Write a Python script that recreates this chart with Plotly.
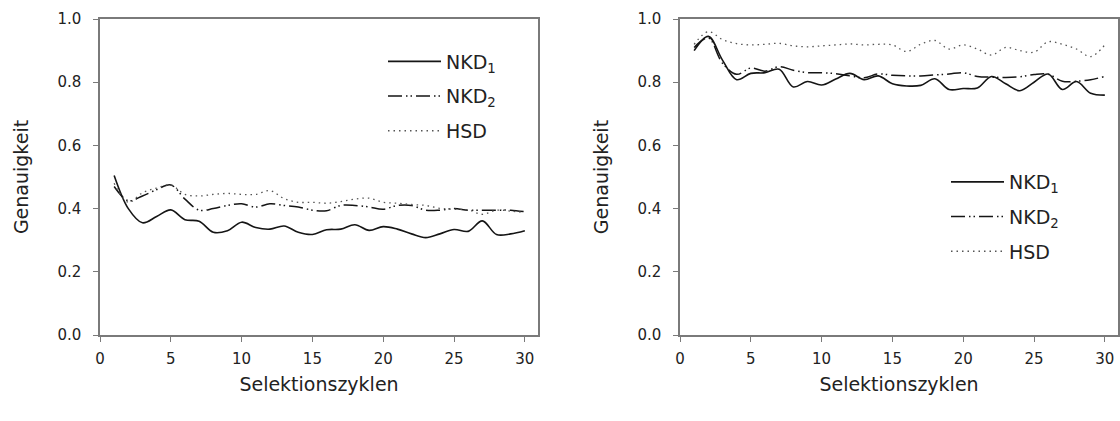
import plotly.graph_objects as go

cycles = list(range(1, 31))

# Left panel
left_nkd1 = [0.505, 0.40, 0.355, 0.375, 0.396, 0.365, 0.36, 0.325, 0.33, 0.357,
             0.34, 0.335, 0.345, 0.325, 0.318, 0.333, 0.335, 0.349, 0.331, 0.343,
             0.335, 0.32, 0.308, 0.32, 0.334, 0.328, 0.361, 0.318, 0.32, 0.33]
left_nkd2 = [0.47, 0.425, 0.44, 0.46, 0.475, 0.43, 0.395, 0.40, 0.41, 0.415,
             0.405, 0.415, 0.41, 0.405, 0.395, 0.393, 0.41, 0.41, 0.405, 0.398,
             0.41, 0.41, 0.395, 0.395, 0.40, 0.395, 0.395, 0.395, 0.395, 0.39]
left_hsd = [0.48, 0.42, 0.45, 0.465, 0.475, 0.445, 0.44, 0.445, 0.448, 0.445,
            0.445, 0.457, 0.432, 0.42, 0.42, 0.417, 0.422, 0.43, 0.433, 0.42,
            0.417, 0.413, 0.41, 0.401, 0.398, 0.396, 0.382, 0.395, 0.392, 0.388]

# Right panel
right_nkd1 = [0.90, 0.945, 0.87, 0.808, 0.828, 0.83, 0.841, 0.785, 0.802, 0.791,
              0.81, 0.828, 0.808, 0.82, 0.795, 0.788, 0.79, 0.811, 0.777, 0.78,
              0.782, 0.818, 0.795, 0.773, 0.80, 0.826, 0.777, 0.802, 0.765, 0.759]
right_nkd2 = [0.91, 0.94, 0.86, 0.825, 0.845, 0.835, 0.849, 0.838, 0.83, 0.83,
              0.827, 0.82, 0.814, 0.826, 0.822, 0.82, 0.82, 0.823, 0.826, 0.83,
              0.818, 0.816, 0.815, 0.817, 0.824, 0.825, 0.803, 0.803, 0.808, 0.818]
right_hsd = [0.92, 0.96, 0.935, 0.922, 0.918, 0.92, 0.923, 0.915, 0.912, 0.915,
             0.918, 0.921, 0.918, 0.92, 0.918, 0.897, 0.92, 0.932, 0.905, 0.918,
             0.905, 0.886, 0.91, 0.90, 0.895, 0.928, 0.92, 0.905, 0.881, 0.918]

series_names = ["NKD<sub>1</sub>", "NKD<sub>2</sub>", "HSD"]
x_ticks = [0, 5, 10, 15, 20, 25, 30]
y_ticks = [0.0, 0.2, 0.4, 0.6, 0.8, 1.0]

LINE = "#151515"
AXIS = "#7a7a7a"
TEXT = "#222222"
FONT = "DejaVu Sans"
styles = [
    dict(color=LINE, width=1.6),
    dict(color=LINE, width=1.5, dash="14px,4px,1.5px,3px,1.5px,4px"),
    dict(color="#555555", width=1.3, dash="1.5px,4px"),
]

fig = go.Figure()
for i, (ys, name) in enumerate(zip([left_nkd1, left_nkd2, left_hsd], series_names)):
    fig.add_trace(go.Scatter(x=cycles, y=ys, mode="lines", name=name,
                             line=dict(shape="spline", smoothing=1.0, **styles[i]),
                             xaxis="x", yaxis="y", legend="legend",
                             legendgroup="l%d" % i))
for i, (ys, name) in enumerate(zip([right_nkd1, right_nkd2, right_hsd], series_names)):
    fig.add_trace(go.Scatter(x=cycles, y=ys, mode="lines", name=name,
                             line=dict(shape="spline", smoothing=1.0, **styles[i]),
                             xaxis="x2", yaxis="y2", legend="legend2",
                             legendgroup="r%d" % i))

W, H = 1120, 421
def xdom(a, b):
    return [a / W, b / W]
ydom = [(H - 335) / H, (H - 19) / H]

axis_common = dict(showline=True, linecolor=AXIS, linewidth=1.5, mirror=True,
                   ticks="outside", ticklen=5, tickcolor=AXIS, tickwidth=1.2,
                   showgrid=False, zeroline=False, automargin=False,
                   tickfont=dict(family=FONT, size=15, color=TEXT))
xax = dict(axis_common, range=[0, 30.93], tickvals=x_ticks, ticklabelstandoff=4,
           title=dict(text="Selektionszyklen", font=dict(family=FONT, size=19, color=TEXT), standoff=11))
yax = dict(axis_common, range=[0, 1.0], tickvals=y_ticks, tickformat=".1f", ticklabelstandoff=9,
           title=dict(text="Genauigkeit", font=dict(family=FONT, size=19, color=TEXT), standoff=24))

legend_common = dict(font=dict(family=FONT, size=19, color=TEXT), bgcolor="rgba(0,0,0,0)",
                     itemwidth=53, tracegroupgap=7, xanchor="left", yanchor="top",
                     xref="paper", yref="paper")

fig.update_layout(
    width=W, height=H, margin=dict(l=0, r=0, t=0, b=0),
    paper_bgcolor="white", plot_bgcolor="white",
    xaxis=dict(xax, domain=xdom(100, 538), anchor="y"),
    yaxis=dict(yax, domain=ydom, anchor="x"),
    xaxis2=dict(xax, domain=xdom(680, 1118), anchor="y2"),
    yaxis2=dict(yax, domain=ydom, anchor="x2"),
    legend=dict(legend_common, x=383 / W, y=(H - 42.5) / H),
    legend2=dict(legend_common, x=946 / W, y=(H - 163) / H),
    showlegend=True,
)

fig.write_html("out.html")
